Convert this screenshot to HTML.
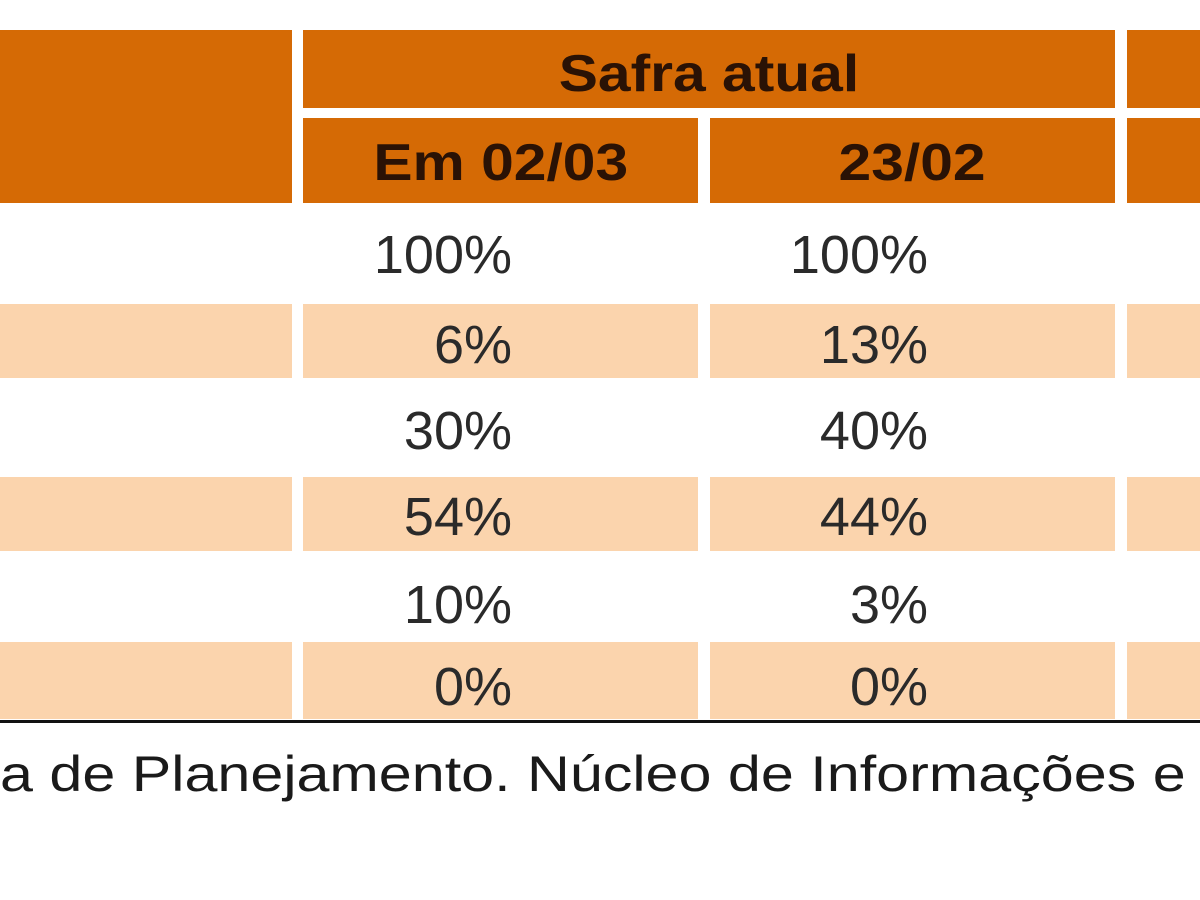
<!DOCTYPE html>
<html><head><meta charset="utf-8"><style>
body{margin:0;width:1200px;height:900px;background:#fff;position:relative;overflow:hidden;font-family:"Liberation Sans",sans-serif;}
.b{position:absolute;}
.o{background:#d56a05;}
.p{background:#fbd4ad;}
.t{position:absolute;font-size:54px;color:#2a2a2a;white-space:nowrap;}
.h{position:absolute;font-size:52px;font-weight:bold;color:#2a1205;white-space:nowrap;text-align:center;}
.h span{display:inline-block;transform:scaleX(1.13);}
</style></head><body>
<div class="b o" style="left:0;top:30px;width:292px;height:173px"></div>
<div class="b o" style="left:303px;top:30px;width:812px;height:78px"></div>
<div class="b o" style="left:1127px;top:30px;width:73px;height:78px"></div>
<div class="b o" style="left:303px;top:118px;width:395px;height:85px"></div>
<div class="b o" style="left:710px;top:118px;width:405px;height:85px"></div>
<div class="b o" style="left:1127px;top:118px;width:73px;height:85px"></div>
<div class="h" style="left:303px;width:812px;top:44px"><span>Safra atual</span></div>
<div class="h" style="left:303px;width:395px;top:133px"><span>Em 02/03</span></div>
<div class="h" style="left:710px;width:405px;top:133px"><span>23/02</span></div>

<div class="b p" style="left:0;top:304px;width:292px;height:74px"></div>
<div class="b p" style="left:303px;top:304px;width:395px;height:74px"></div>
<div class="b p" style="left:710px;top:304px;width:405px;height:74px"></div>
<div class="b p" style="left:1127px;top:304px;width:73px;height:74px"></div>

<div class="b p" style="left:0;top:477px;width:292px;height:74px"></div>
<div class="b p" style="left:303px;top:477px;width:395px;height:74px"></div>
<div class="b p" style="left:710px;top:477px;width:405px;height:74px"></div>
<div class="b p" style="left:1127px;top:477px;width:73px;height:74px"></div>

<div class="b p" style="left:0;top:642px;width:292px;height:77px"></div>
<div class="b p" style="left:303px;top:642px;width:395px;height:77px"></div>
<div class="b p" style="left:710px;top:642px;width:405px;height:77px"></div>
<div class="b p" style="left:1127px;top:642px;width:73px;height:77px"></div>

<div class="b" style="left:0;top:720px;width:1200px;height:3px;background:#111"></div>

<div class="t" style="right:688px;top:224px">100%</div>
<div class="t" style="right:688px;top:314px">6%</div>
<div class="t" style="right:688px;top:400px">30%</div>
<div class="t" style="right:688px;top:486px">54%</div>
<div class="t" style="right:688px;top:574px">10%</div>
<div class="t" style="right:688px;top:656px">0%</div>

<div class="t" style="right:272px;top:224px">100%</div>
<div class="t" style="right:272px;top:314px">13%</div>
<div class="t" style="right:272px;top:400px">40%</div>
<div class="t" style="right:272px;top:486px">44%</div>
<div class="t" style="right:272px;top:574px">3%</div>
<div class="t" style="right:272px;top:656px">0%</div>

<div class="t" style="left:0;top:745px;font-size:50px;color:#1a1a1a;transform:scaleX(1.185);transform-origin:0 0">a de Planejamento. Núcleo de Informações e</div>
</body></html>
